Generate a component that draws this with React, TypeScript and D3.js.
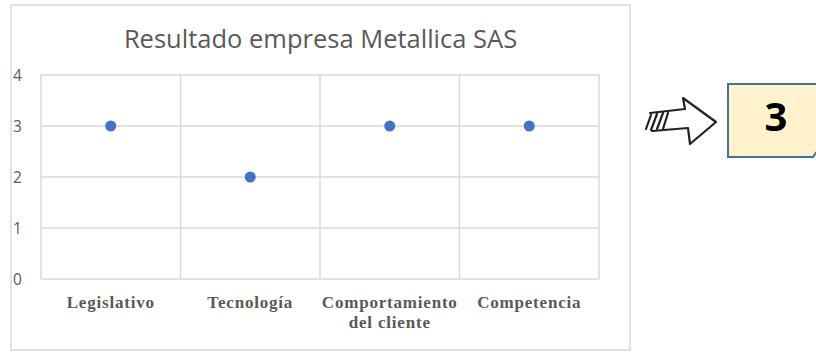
import React from "react";
import * as d3 from "d3";

const categories = ["Legislativo", "Tecnología", "Comportamiento del cliente", "Competencia"];
const categoryLines = [["Legislativo"], ["Tecnología"], ["Comportamiento", "del cliente"], ["Competencia"]];
const values = [3, 2, 3, 3];
const yTicks = [0, 1, 2, 3, 4];
const title = "Resultado empresa Metallica SAS";
const resultLabel = "3";

const W = 816;
const H = 352;
const frame = { x: 11, y: 5, w: 619, h: 345 };
const plot = { left: 41, right: 599, top: 75, bottom: 279 };

export default function App() {
  const x = d3.scaleBand<string>().domain(categories).range([plot.left, plot.right]);
  const y = d3.scaleLinear().domain([0, 4]).range([plot.bottom, plot.top]);
  const grid = "#d9d9d9";
  const textGray = "#595959";
  const sans = "'Open Sans', 'Noto Sans', sans-serif";
  const serif = "'Liberation Serif', 'DejaVu Serif', serif";

  return (
    <svg width={W} height={H} style={{ position: "absolute", left: 0, top: 0 }}>
      <rect x={0} y={0} width={W} height={H} fill="#fff" />
      <rect x={frame.x} y={frame.y} width={frame.w} height={frame.h} fill="#fff" stroke="#d9d9d9" strokeWidth={1.5} />

      <text x={frame.x + frame.w / 2} y={48} textAnchor="middle" fontFamily={sans} fontSize={25.5} fill={textGray}>
        {title}
      </text>

      {/* horizontal gridlines */}
      {yTicks.map((t) => (
        <line key={"h" + t} x1={plot.left} x2={plot.right} y1={y(t)} y2={y(t)} stroke={grid} strokeWidth={1.5} />
      ))}
      {/* vertical category separators */}
      {[...categories.map((c) => x(c) as number), plot.right].map((vx, i) => (
        <line key={"v" + i} x1={vx} x2={vx} y1={plot.top} y2={plot.bottom} stroke={grid} strokeWidth={1.5} />
      ))}

      {yTicks.map((t) => (
        <text key={"yl" + t} x={13} y={y(t) + 5.5} fontFamily={sans} fontSize={15.5} fill={textGray}>
          {t}
        </text>
      ))}

      {categoryLines.map((lines, i) => (
        <text
          key={"c" + i}
          x={(x(categories[i]) as number) + x.bandwidth() / 2}
          y={308}
          textAnchor="middle"
          fontFamily={serif}
          fontWeight="bold"
          fontSize={17}
          letterSpacing={0.8}
          fill={textGray}
        >
          {lines.map((l, j) => (
            <tspan key={j} x={(x(categories[i]) as number) + x.bandwidth() / 2} dy={j === 0 ? 0 : 20}>
              {l}
            </tspan>
          ))}
        </text>
      ))}

      {values.map((v, i) => (
        <circle key={"p" + i} cx={(x(categories[i]) as number) + x.bandwidth() / 2} cy={y(v)} r={5.5} fill="#4472C4" />
      ))}

      {/* hand-drawn pointer arrow */}
      <g fill="none" stroke="#222" strokeWidth={2.2} strokeLinejoin="round" strokeLinecap="round">
        <path d="M650,113 L685,109 L683,98 L716,122 L690,144 L688,128 L652,131" fill="#fff" />
        <path d="M646,129 L651,115" />
        <path d="M651,130 L657,114" />
        <path d="M657,129 L663,113" />
        <path d="M663,129 L668,113" />
      </g>

      {/* result box */}
      <path d="M728,84 H818 V150 L813,157 H728 Z" fill="#FFF2CC" stroke="#41719C" strokeWidth={2} />
      <text x={776} y={131} textAnchor="middle" fontFamily={sans} fontWeight="bold" fontSize={40} fill="#000">
        {resultLabel}
      </text>
    </svg>
  );
}
